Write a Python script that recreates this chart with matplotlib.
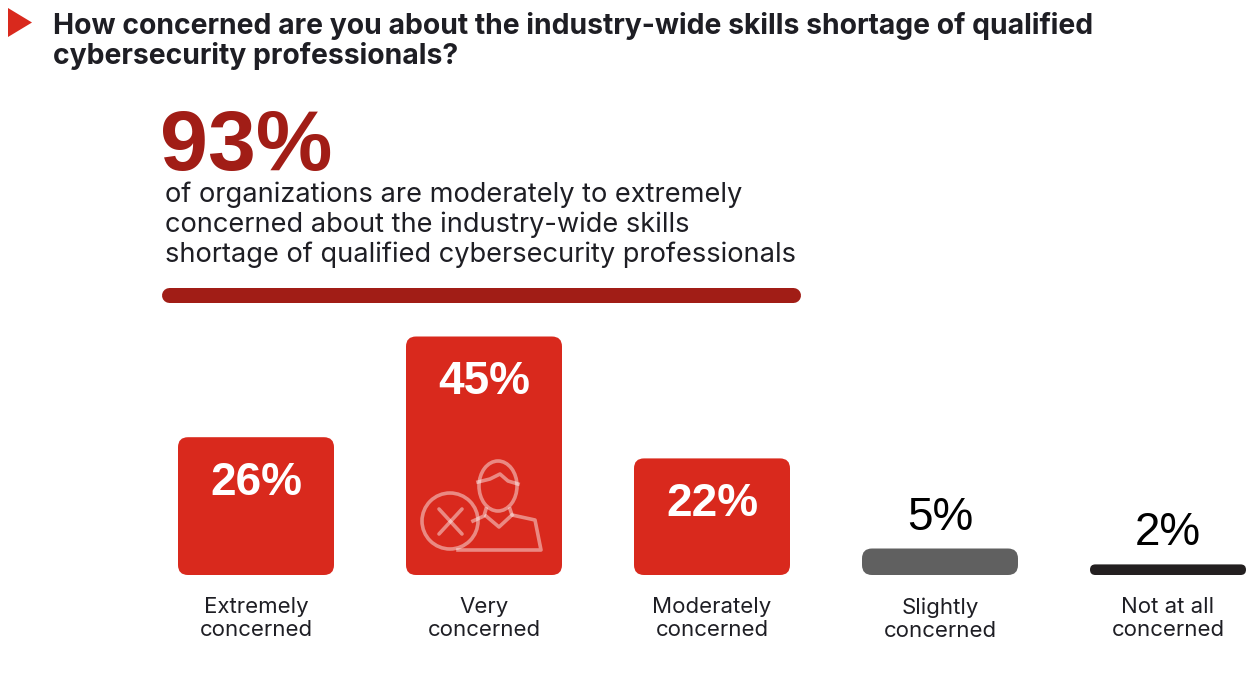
import matplotlib
matplotlib.use("Agg")
import matplotlib.pyplot as plt
from matplotlib.patches import FancyBboxPatch, Polygon, Circle, Ellipse

# data
categories = ["Extremely\nconcerned", "Very\nconcerned", "Moderately\nconcerned",
              "Slightly\nconcerned", "Not at all\nconcerned"]
values = [26, 45, 22, 5, 2]
value_labels = ["26%", "45%", "22%", "5%", "2%"]
bar_colors = ["#D9291D", "#D9291D", "#D9291D", "#606060", "#231F20"]

title = ("How concerned are you about the industry-wide skills shortage of qualified\n"
         "cybersecurity professionals?")
headline = "93%"
blurb = ["of organizations are moderately to extremely",
         "concerned about the industry-wide skills",
         "shortage of qualified cybersecurity professionals"]

RED = "#D9291D"
DARK_RED = "#A11D16"
TXT = "#1E1E24"

W, H = 1259, 674
fig = plt.figure(figsize=(W / 100, H / 100), dpi=100)
fig.patch.set_facecolor("white")

# bar axes: x = category index, y = percent
x_step = 228.0   # px per category
y_px = 5.3       # px per percent
bar_left_px = 256 - x_step / 2
bar_bottom_px = 575
ymax = 60
axb = fig.add_axes([bar_left_px / W, (H - bar_bottom_px) / H,
                    x_step * 5 / W, ymax * y_px / H])
axb.set_xlim(-0.5, 4.5)
axb.set_ylim(0, ymax)
axb.set_axis_off()

bar_w = 156 / x_step
aspect = x_step / y_px
for i, (v, c) in enumerate(zip(values, bar_colors)):
    h_px = v * y_px
    r_px = min(10, h_px / 2)
    p = FancyBboxPatch((i - bar_w / 2, 0), bar_w, v,
                       boxstyle=f"round,pad=0,rounding_size={r_px / x_step}",
                       mutation_aspect=aspect, fc=c, ec="none")
    axb.add_patch(p)
    if i < 3:
        axb.annotate(value_labels[i], (i, v), xytext=(0, -46), textcoords="offset pixels",
                     ha="center", va="center", color="white", fontsize=33,
                     fontweight="bold", family="Liberation Sans")
    else:
        axb.annotate(value_labels[i], (i, v), xytext=(0, 31), textcoords="offset pixels",
                     ha="center", va="center", color="black", fontsize=33,
                     family="Liberation Sans")
    axb.annotate(categories[i], (i, 0), xytext=(0, -22), textcoords="offset pixels",
                 ha="center", va="top", color=TXT, fontsize=16, family="Inter",
                 linespacing=1.2)

# overlay axes in pixel coords for header and decoration
ax = fig.add_axes([0, 0, 1, 1])
ax.set_xlim(0, W)
ax.set_ylim(H, 0)
ax.set_axis_off()
ax.patch.set_alpha(0)

ax.add_patch(Polygon([[8, 8], [32, 22.5], [8, 37]], closed=True, fc=RED, ec="none"))
ax.text(53, 34, title.split("\n")[0], fontsize=20.4, fontweight="bold", color=TXT,
        family="Inter", va="baseline")
ax.text(53, 64, title.split("\n")[1], fontsize=20.4, fontweight="bold", color=TXT,
        family="Inter", va="baseline")

ax.text(160, 170, headline, fontsize=62, fontweight="bold", color=DARK_RED,
        family="Liberation Sans", va="baseline")
for k, line in enumerate(blurb):
    ax.text(165, 202 + 30 * k, line, fontsize=19.6, color=TXT, family="Inter",
            va="baseline")

ax.plot([169, 793], [295, 295], color=DARK_RED, lw=15 * 0.72, solid_capstyle="round")

# person icon with x-circle in the big bar
ic = (1, 1, 1, 0.45)
lw = 2.6
ax.add_patch(Circle((450, 521), 28, fill=False, ec=ic, lw=lw))
ax.plot([439, 462], [509, 534], color=ic, lw=lw, solid_capstyle="round")
ax.plot([462, 439], [509, 534], color=ic, lw=lw, solid_capstyle="round")
ax.add_patch(Ellipse((498, 486), 38, 50, fill=False, ec=ic, lw=lw))
ax.plot([478, 490, 500, 508, 518], [482, 479, 474, 481, 484], color=ic, lw=lw)
ax.plot([486, 484, 473], [509, 516, 521], color=ic, lw=lw)
ax.plot([510, 512, 535, 541, 458], [509, 515, 520, 550, 550], color=ic, lw=lw)
ax.plot([486, 499, 512], [516, 527, 515], color=ic, lw=lw)

fig.savefig("out.png", dpi=100, facecolor="white")
